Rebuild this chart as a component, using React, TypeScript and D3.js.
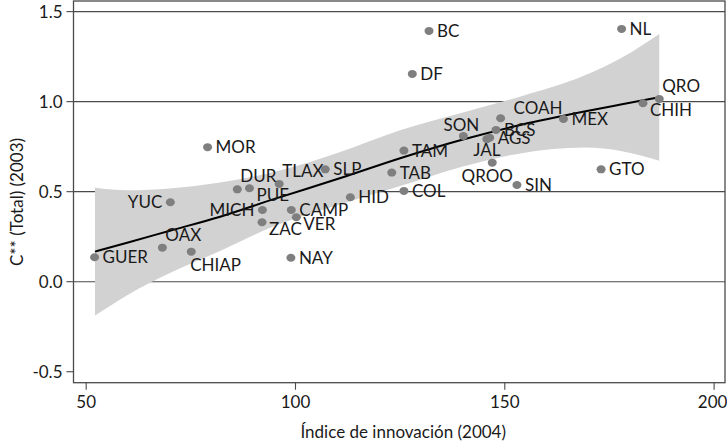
import React from "react";
import * as d3 from "d3";

// ---- Data ----
const states = [
  "GUER", "OAX", "CHIAP", "YUC", "MOR", "DUR", "PUE", "TLAX", "SLP", "MICH",
  "ZAC", "CAMP", "VER", "NAY", "HID", "TAB", "COL", "TAM", "SON", "JAL",
  "AGS", "BCS", "COAH", "QROO", "SIN", "DF", "BC", "NL", "QRO", "CHIH",
  "MEX", "GTO",
];
const innovation = [
  52.0, 68.2, 75.1, 70.1, 79.0, 86.1, 89.0, 96.1, 107.1, 92.1,
  92.0, 99.0, 100.2, 98.9, 113.1, 123.0, 125.9, 125.9, 140.1, 145.7,
  146.4, 147.9, 149.0, 147.0, 152.9, 127.9, 131.9, 177.9, 186.9, 183.0,
  164.0, 173.0,
];
const cTotal = [
  0.136, 0.189, 0.167, 0.441, 0.747, 0.513, 0.519, 0.543, 0.624, 0.398,
  0.33, 0.398, 0.358, 0.133, 0.469, 0.606, 0.504, 0.728, 0.809, 0.792,
  0.8, 0.843, 0.908, 0.661, 0.537, 1.154, 1.393, 1.404, 1.015, 0.991,
  0.904, 0.624,
];
// label placement as clock positions (like Stata's mlabvposition)
const labelClock: Record<string, number> = {
  GUER: 3, OAX: 1, CHIAP: 5, YUC: 9, MOR: 3, DUR: 1, PUE: 4, TLAX: 1, SLP: 3,
  MICH: 9, ZAC: 4, CAMP: 3, VER: 4, NAY: 3, HID: 3, TAB: 3, COL: 3, TAM: 3,
  SON: 12, JAL: 6, AGS: 3, BCS: 3, COAH: 2, QROO: 7, SIN: 3, DF: 3, BC: 3,
  NL: 3, QRO: 1, CHIH: 4, MEX: 3, GTO: 3,
};
// fitted curve and 95% CI half-width
const fitX = [52.1, 60, 70, 82, 95, 110, 125, 140, 154, 169, 178, 186.9];
const fitY = [0.167, 0.218, 0.283, 0.361, 0.46, 0.57, 0.686, 0.79, 0.872, 0.945, 0.985, 1.024];
const fitHalf = [0.355, 0.29, 0.235, 0.19, 0.15, 0.145, 0.155, 0.15, 0.158, 0.2, 0.26, 0.352];

const xTicks = [50, 100, 150, 200];
const yTicks = [-0.5, 0, 0.5, 1, 1.5];
const yTickLabels = ["-0.5", "0.0", "0.5", "1.0", "1.5"];
const yGrid = [0, 0.5, 1, 1.5];
const xTitle = "Índice de innovación (2004)";
const yTitle = "C** (Total) (2003)";

const W = 727, H = 442;
const plot = { left: 73.5, right: 725, top: 1, bottom: 382.7 };
const FONT = "Lato, 'Open Sans', sans-serif";

export default function App() {
  const x = d3.scaleLinear().domain([46.97, 202.6]).range([plot.left, plot.right]);
  const y = d3.scaleLinear().domain([-0.561, 1.559]).range([plot.bottom, plot.top]);
  const fit = fitX.map((v, i) => ({ x: v, y: fitY[i], lo: fitY[i] - fitHalf[i], hi: fitY[i] + fitHalf[i] }));
  const area = d3.area<any>().curve(d3.curveMonotoneX).x((d) => x(d.x)).y0((d) => y(d.lo)).y1((d) => y(d.hi));
  const line = d3.line<any>().curve(d3.curveMonotoneX).x((d) => x(d.x)).y((d) => y(d.y));
  const gridColor = "#4a4a4a";

  const labelProps = (clock: number) => {
    switch (clock) {
      case 1: return { dx: 3, dy: -7, anchor: "start" };
      case 2: return { dx: 13, dy: -4, anchor: "start" };
      case 4: return { dx: 7, dy: 13, anchor: "start" };
      case 5: return { dx: -1, dy: 19, anchor: "start" };
      case 6: return { dx: 0, dy: 17, anchor: "middle" };
      case 7: return { dx: -5, dy: 19, anchor: "middle" };
      case 9: return { dx: -8, dy: 6, anchor: "end" };
      case 12: return { dx: -2, dy: -5, anchor: "middle" };
      default: return { dx: 8, dy: 6, anchor: "start" };
    }
  };

  return (
    <svg width={W} height={H} style={{ position: "absolute", left: 0, top: 0, background: "#fff" }}
      fontFamily={FONT}>
      {/* gridlines */}
      {yGrid.map((v) => (
        <line key={"g" + v} x1={plot.left} x2={plot.right} y1={y(v)} y2={y(v)} stroke={gridColor} strokeWidth={1.1} />
      ))}
      {/* CI band */}
      <path d={area(fit)!} fill="#d2d2d2" />
      {/* frame */}
      <rect x={plot.left} y={plot.top} width={plot.right - plot.left} height={plot.bottom - plot.top}
        fill="none" stroke={gridColor} strokeWidth={1.3} />
      {/* y ticks */}
      {yTicks.map((v, i) => (
        <g key={"yt" + v}>
          <line x1={plot.left - 7} x2={plot.left} y1={y(v)} y2={y(v)} stroke={gridColor} strokeWidth={1.1} />
          <text x={plot.left - 11} y={y(v)} dy={6} textAnchor="end" fontSize={17} fill="#1a1a1a">
            {yTickLabels[i]}
          </text>
        </g>
      ))}
      {/* x ticks */}
      {xTicks.map((v) => (
        <g key={"xt" + v}>
          <line x1={x(v)} x2={x(v)} y1={plot.bottom} y2={plot.bottom + 7} stroke={gridColor} strokeWidth={1.1} />
          <text x={x(v)} y={plot.bottom + 25} textAnchor="middle" fontSize={17} fill="#1a1a1a"
            dx={v === 200 ? -1.5 : 0}>
            {v}
          </text>
        </g>
      ))}
      {/* axis titles */}
      <text x={(plot.left + plot.right) / 2 + 4} y={438} textAnchor="middle" fontSize={17} fill="#1a1a1a">
        {xTitle}
      </text>
      <text transform={`translate(23, ${202}) rotate(-90)`} textAnchor="middle" fontSize={17} fill="#1a1a1a">
        {yTitle}
      </text>
      {/* fit line */}
      <path d={line(fit)!} fill="none" stroke="#000" strokeWidth={2} />
      {/* points */}
      {states.map((s, i) => (
        <ellipse key={"p" + s} cx={x(innovation[i])} cy={y(cTotal[i])} rx={4.5} ry={4} fill="#7f7f7f" />
      ))}
      {/* labels */}
      {states.map((s, i) => {
        const p = labelProps(labelClock[s]);
        return (
          <text key={"l" + s} x={x(innovation[i]) + p.dx} y={y(cTotal[i]) + p.dy} textAnchor={p.anchor as any}
            fontSize={17} fill="#1a1a1a">
            {s}
          </text>
        );
      })}
    </svg>
  );
}
